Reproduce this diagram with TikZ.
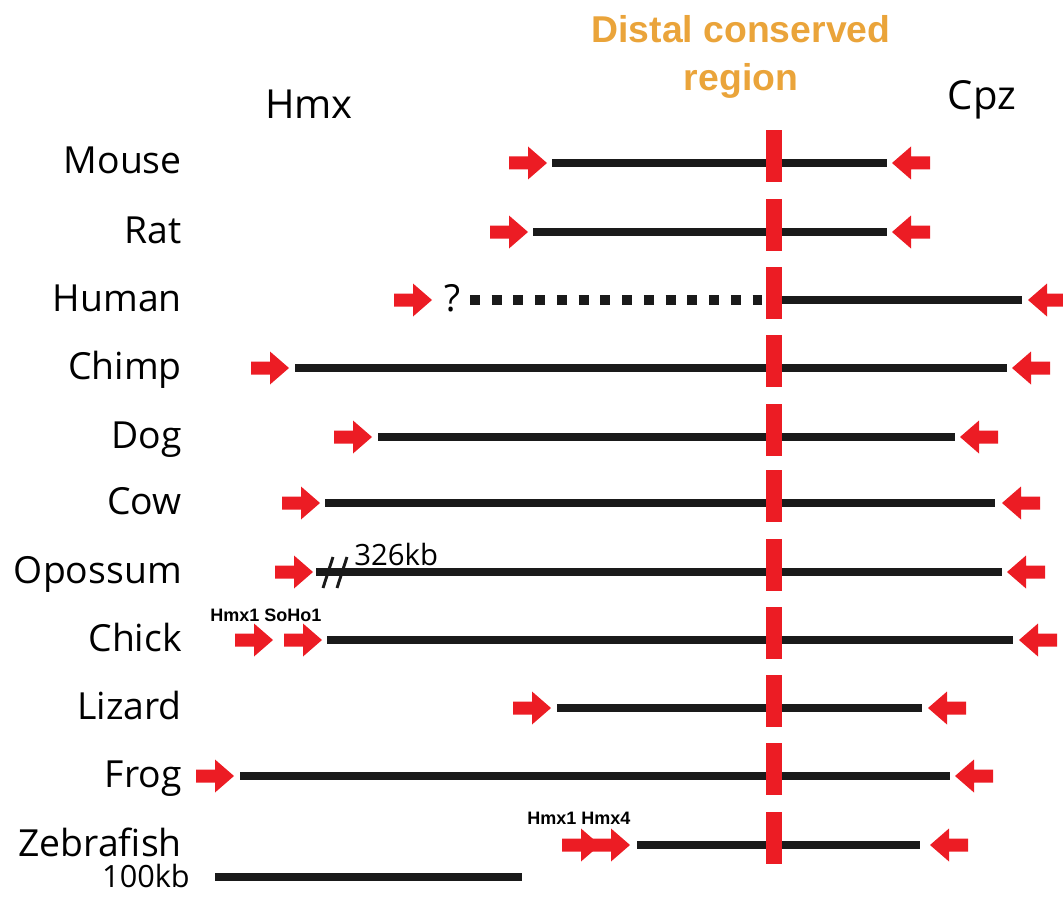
\documentclass[tikz,border=0pt]{standalone}
\usepackage{fontspec}
\setmainfont{Open Sans}
\newfontfamily\titlefont{Liberation Sans}
\definecolor{gred}{RGB}{236,28,36}
\definecolor{gorange}{RGB}{234,164,58}
\definecolor{gblack}{RGB}{26,26,26}
\tikzset{
  gene/.style={draw=gblack,line width=6pt},
  dotgene/.style={draw=gblack,line width=7pt,dash pattern=on 7.5pt off 8.8pt},
  lab/.style={font=\fontsize{28}{32}\selectfont,anchor=base east,inner sep=0pt},
  head/.style={font=\fontsize{30}{34}\selectfont,inner sep=0pt},
  small/.style={font=\titlefont\bfseries\fontsize{13.5}{15}\selectfont,inner sep=0pt},
  kb/.style={font=\fontsize{22}{24}\selectfont,inner sep=0pt},
  bar/.style={fill=gred,inner sep=0pt,minimum width=12pt,minimum height=39pt},
  rarr/.pic={\fill[gred] (0,0) -- (-19,-16.5) -- (-19,-6.5) -- (-38,-6.5) -- (-38,6.5) -- (-19,6.5) -- (-19,16.5) -- cycle;},
  larr/.pic={\fill[gred] (0,0) -- (19,-16.5) -- (19,-6.5) -- (38,-6.5) -- (38,6.5) -- (19,6.5) -- (19,16.5) -- cycle;},
}
% name, y, right-arrow tip, line start, line end, left-arrow tip, label
\newcommand{\generow}[7]{%
  \node[lab] (#1lab) at (182,#2+11) {#7};
  \coordinate (#1s) at (#4,#2);
  \coordinate (#1e) at (#5,#2);
  \draw[gene] (#1s) -- (#1e);
  \node[bar] (#1bar) at (774,#2-7) {};
  \coordinate (#1r) at (#3,#2);
  \coordinate (#1l) at (#6,#2);
  \pic at (#1r) {rarr};
  \pic at (#1l) {larr};
}
\begin{document}
\begin{tikzpicture}[x=0.75pt,y=-0.75pt]
\useasboundingbox (0,0) rectangle (1063,920);

% headers
\node[font=\titlefont\bfseries\fontsize{28}{36}\selectfont,text=gorange,align=center,inner sep=0pt] (title) at (741,57) {Distal conserved\\region};
\node[head] (hmx) at (309,104) {Hmx};
\node[head] (cpz) at (982,100) {Cpz};

\generow{mouse}{163}{547}{552}{887}{892}{Mouse}
\generow{rat}{232}{528}{533}{887}{892}{Rat}

% Human
\node[lab] (humanlab) at (182,311) {Human};
\coordinate (humands) at (470,300);
\coordinate (humande) at (762,300);
\draw[dotgene] (humands) -- (humande);
\coordinate (humans) at (780,300);
\coordinate (humane) at (1022,300);
\draw[gene] (humans) -- (humane);
\node[bar] (humanbar) at (774,293) {};
\coordinate (humanr) at (432,300);
\coordinate (humanl) at (1028,300);
\pic at (humanr) {rarr};
\pic at (humanl) {larr};
\node[lab,anchor=base] (humanq) at (453,311) {?};

\generow{chimp}{368}{289}{295}{1007}{1012}{Chimp}
\generow{dog}{437}{372}{378}{955}{960}{Dog}
\generow{cow}{503}{320}{325}{995}{1002}{Cow}
\generow{opossum}{572}{313}{316}{1002}{1007}{Opossum}
\coordinate (brk1a) at (323,588);
\coordinate (brk1b) at (333,557);
\coordinate (brk2a) at (337,588);
\coordinate (brk2b) at (347,557);
\draw[gblack,line width=2.2pt] (brk1a) -- (brk1b);
\draw[gblack,line width=2.2pt] (brk2a) -- (brk2b);
\node[kb,anchor=base west] (opkb) at (354,565) {326kb};

\generow{chick}{640}{322}{327}{1013}{1019}{Chick}
\coordinate (chickr2) at (273,640);
\pic at (chickr2) {rarr};
\node[small] (chicklab2) at (266,615) {Hmx1 SoHo1};

\generow{lizard}{708}{551}{557}{922}{928}{Lizard}
\generow{frog}{776}{234}{240}{950}{955}{Frog}
\generow{zebrafish}{845}{630}{637}{920}{930}{Zebrafish}
\coordinate (zebr2) at (600,845);
\pic at (zebr2) {rarr};
\node[small] (zeblab2) at (579,818) {Hmx1 Hmx4};

% scale bar
\node[font=\fontsize{23}{26}\selectfont,anchor=base east,inner sep=0pt] (scalelab) at (190,887) {100kb};
\coordinate (sbA) at (215,877);
\coordinate (sbB) at (522,877);
\draw[gene] (sbA) -- (sbB);
\end{tikzpicture}
\end{document}
